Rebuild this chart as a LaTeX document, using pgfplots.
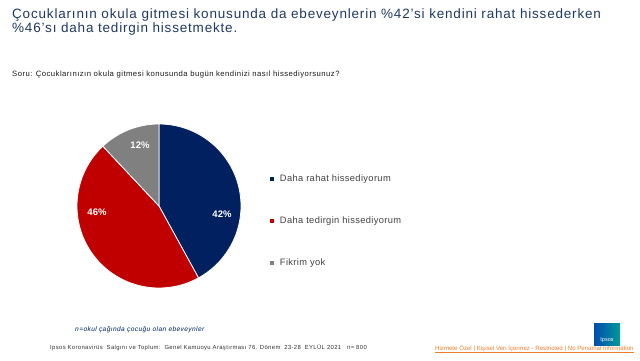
\documentclass[border=0pt]{standalone}
\usepackage{pgfplots}
\pgfplotsset{compat=1.18}
\usepackage{fontspec}
\setmainfont{Liberation Sans}
\newfontfamily\titlefont[LetterSpace=6]{Liberation Sans}
\newfontfamily\smallfont[LetterSpace=6]{Liberation Sans}
\newfontfamily\legfont[LetterSpace=4]{Liberation Sans}
\definecolor{navy}{HTML}{002060}
\definecolor{redc}{HTML}{C00000}
\definecolor{grayc}{HTML}{808080}
\definecolor{titlec}{HTML}{1F3864}
\definecolor{legtxt}{HTML}{404040}
\definecolor{orangec}{HTML}{F07C28}
% data (percent)
\def\vA{42}\def\vB{46}\def\vC{12}
\pgfmathsetmacro\aA{90}
\pgfmathsetmacro\aB{90-3.6*\vA}
\pgfmathsetmacro\aC{\aB-3.6*\vB}
\pgfmathsetmacro\aD{\aC-3.6*\vC}
\begin{document}
\begin{tikzpicture}
\begin{axis}[
  width=640bp, height=360bp, scale only axis,
  xmin=0, xmax=640, ymin=0, ymax=360,
  hide axis, clip=false,
  legend style={at={(axis cs:266,189)}, anchor=north west, draw=none, fill=none,
    font=\legfont\fontsize{9.3bp}{10bp}\selectfont\color{legtxt}, row sep=29.5bp,
    cells={anchor=west}},
  legend cell align=left,
  legend image code/.code={\fill[#1] (0bp,-2.5bp) rectangle (5bp,2.5bp);},
]
\path (axis cs:0,0) rectangle (axis cs:640,360);
\addplot[fill=navy, draw=white, line width=0.8bp, domain=\aB:\aA, samples=80]
  ({159+82*cos(x)}, {154+82*sin(x)}) -- (axis cs:159,154) -- cycle;
\addlegendentry{\hspace{3bp}Daha rahat hissediyorum}
\addplot[fill=redc, draw=white, line width=0.8bp, domain=\aC:\aB, samples=80]
  ({159+82*cos(x)}, {154+82*sin(x)}) -- (axis cs:159,154) -- cycle;
\addlegendentry{\hspace{3bp}Daha tedirgin hissediyorum}
\addplot[fill=grayc, draw=white, line width=0.8bp, domain=\aD:\aC, samples=40]
  ({159+82*cos(x)}, {154+82*sin(x)}) -- (axis cs:159,154) -- cycle;
\addlegendentry{\hspace{3bp}Fikrim yok}

\node[white, font=\bfseries\fontsize{9.5bp}{10bp}\selectfont] at (axis cs:222,146) {\vA\%};
\node[white, font=\bfseries\fontsize{9.5bp}{10bp}\selectfont] at (axis cs:97,148) {\vB\%};
\node[white, font=\bfseries\fontsize{9.5bp}{10bp}\selectfont] at (axis cs:140,215) {\vC\%};

\node[anchor=north west, align=left, text=titlec, inner sep=0pt,
  font=\titlefont\fontsize{13.5bp}{14.5bp}\selectfont] at (axis cs:12,351.5)
  {Çocuklarının okula gitmesi konusunda da ebeveynlerin \%42’si kendini rahat hissederken\\\%46’sı daha tedirgin hissetmekte.};
\node[anchor=west, inner sep=0pt, text=black!90, font=\smallfont\fontsize{7.7bp}{8bp}\selectfont]
  at (axis cs:12,285.5) {Soru: Çocuklarınızın okula gitmesi konusunda bugün kendinizi nasıl hissediyorsunuz?};
\node[anchor=west, inner sep=0pt, text=navy, font=\itshape\smallfont\fontsize{6.6bp}{7bp}\selectfont]
  at (axis cs:75,30) {n=okul çağında çocuğu olan ebeveynler};
\node[anchor=west, inner sep=0pt, text=black!80, font=\smallfont\fontsize{5.9bp}{6bp}\selectfont]
  at (axis cs:50,12) {Ipsos Koronavirüs\ \ Salgını ve Toplum:\ \ Genel Kamuoyu Araştırması 76. Dönem\ \ 23-28\ \ EYLÜL 2021\ \ \ n= 800};
\node[anchor=west, inner sep=0pt, text=orangec, font=\fontsize{6.1bp}{6.5bp}\selectfont]
  at (axis cs:435,11) {\underline{Hizmete Özel | Kişisel Veri İçermez - Restricted | No Personal Information}};
\fill[left color=blue!55!black!70!cyan, right color=teal!80!cyan] (axis cs:594,15) rectangle (axis cs:620,37);
\node[white, font=\fontsize{5.5bp}{6bp}\selectfont, inner sep=0pt] at (axis cs:607,19.5) {Ipsos};
\end{axis}
\end{tikzpicture}
\end{document}
